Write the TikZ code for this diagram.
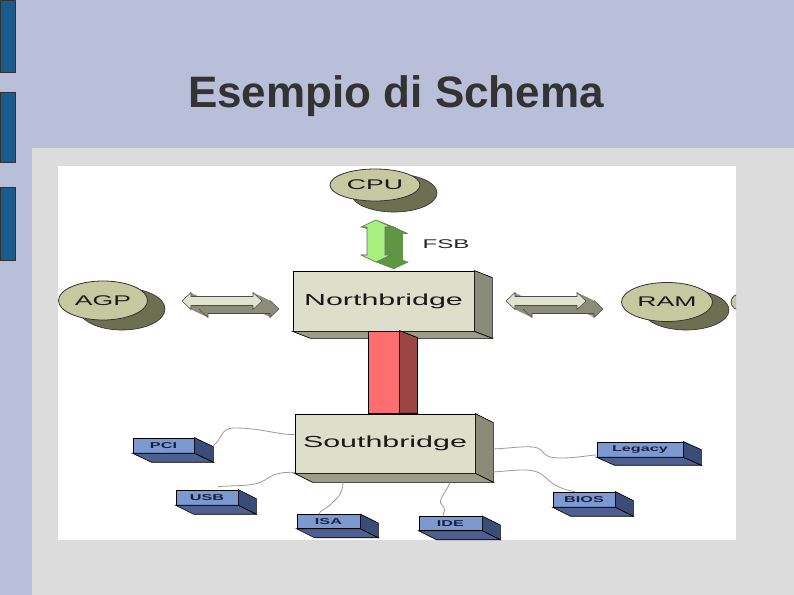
\documentclass[tikz,border=0pt]{standalone}
\usepackage{fontspec}
\setmainfont{Liberation Sans}
\newfontfamily\widefont[FakeStretch=1.9]{Liberation Sans}
\usetikzlibrary{shapes.geometric}
\definecolor{lav}{HTML}{B9BED9}
\definecolor{panel}{HTML}{DCDCDC}
\definecolor{barblue}{HTML}{1A5A8C}
\definecolor{khaki}{HTML}{C6C9A0}
\definecolor{olivedk}{HTML}{6D7050}
\definecolor{boxfront}{HTML}{DEDFCB}
\definecolor{boxside}{HTML}{8A8B78}
\definecolor{boxbottom}{HTML}{9C9D88}
\definecolor{redfront}{HTML}{FF6E6E}
\definecolor{redside}{HTML}{9B4545}
\definecolor{bluefront}{HTML}{7C9AD0}
\definecolor{blueside}{HTML}{3C4C78}
\definecolor{bluebottom}{HTML}{4E6090}
\definecolor{greenfront}{HTML}{A8F080}
\definecolor{greenside}{HTML}{5E9646}
\definecolor{arrowfront}{HTML}{E2E3CE}
\definecolor{arrowside}{HTML}{8C8D78}
\definecolor{wire}{HTML}{9A9A9A}
\definecolor{navytext}{HTML}{1A2040}
\definecolor{titlegray}{HTML}{333333}
\newcommand\extrudebox[5]{%
  \filldraw[fill=#4, draw=black, line width=0.5pt] (#1.north east) -- ++(#2,#3) -- ([shift={(#2,#3)}]#1.south east) -- (#1.south east) -- cycle;
  \filldraw[fill=#5, draw=black, line width=0.5pt] (#1.south west) -- ([shift={(#2,#3)}]#1.south west) -- ([shift={(#2,#3)}]#1.south east) -- (#1.south east) -- cycle;}
\tikzset{
  bigbox/.style={rectangle, fill=boxfront, draw=black, line width=0.6pt, inner sep=0pt,
    font=\widefont\fontsize{12}{13}\selectfont, text=black!90},
  smallbox/.style={rectangle, fill=bluefront, draw=black, line width=0.5pt, inner sep=0pt,
    minimum width=62*0.75pt, minimum height=15*0.75pt,
    font=\widefont\bfseries\fontsize{6.4}{7}\selectfont, text=navytext},
  chip/.style={ellipse, fill=khaki, draw=black!80, line width=0.6pt, inner sep=0pt,
    font=\widefont\fontsize{10.5}{11}\selectfont, text=black!90},
  wirestyle/.style={draw=wire, line width=0.6pt},
  hdbl/.pic={
    \foreach \t in {0,0.04,...,1.001}{
      \begin{scope}[shift={(17*\t,8*\t)}]
        \fill[arrowside] (-40,0) -- (-31,-8.5) -- (-31,-4.5) -- (31,-4.5) -- (31,-8.5) -- (40,0) -- (31,8.5) -- (31,4.5) -- (-31,4.5) -- (-31,8.5) -- cycle;
      \end{scope}}
    \begin{scope}[shift={(17,8)}]
      \draw[black!70, line width=0.4pt] (-40,0) -- (-31,8.5) -- (-31,4.5) -- (31,4.5) -- (31,8.5) -- (40,0) -- (31,-8.5);
    \end{scope}
    \filldraw[fill=arrowfront, draw=black!70, line width=0.4pt] (-40,0) -- (-31,-8.5) -- (-31,-4.5) -- (31,-4.5) -- (31,-8.5) -- (40,0) -- (31,8.5) -- (31,4.5) -- (-31,4.5) -- (-31,8.5) -- cycle;
  },
  vdbl/.pic={
    \foreach \t in {0,0.04,...,1.001}{
      \begin{scope}[shift={(18*\t,7*\t)}]
        \fill[greenside] (0,-21) -- (15,-14) -- (9,-14) -- (9,14) -- (15,14) -- (0,21) -- (-15,14) -- (-9,14) -- (-9,-14) -- (-15,-14) -- cycle;
      \end{scope}}
    \filldraw[fill=greenfront, draw=black!60, line width=0.4pt] (0,-21) -- (15,-14) -- (9,-14) -- (9,14) -- (15,14) -- (0,21) -- (-15,14) -- (-9,14) -- (-9,-14) -- (-15,-14) -- cycle;
  }
}
\begin{document}
\begin{tikzpicture}[x=0.75pt, y=-0.75pt]
\useasboundingbox (0,0) rectangle (794,595);
% background
\fill[lav] (0,0) rectangle (794,595);
\fill[panel] (32,148) rectangle (794,595);
\fill[white] (58,166) rectangle (736,540);
\foreach \a/\b in {0/72, 92/162, 187/260}{
  \filldraw[fill=barblue, draw=black!80, line width=0.6pt] (0,\a) rectangle (15,\b);}
% title
\node[anchor=base, font=\bfseries\fontsize{33}{36}\selectfont, text=titlegray] (title) at (396,108) {Esempio di Schema};

% CPU
\filldraw[fill=olivedk, draw=black!80, line width=0.5pt] (394,193) ellipse (43 and 19);
\node[chip, minimum width=90*0.75pt, minimum height=32*0.75pt] (cpu) at (375,185) {CPU};
% AGP
\filldraw[fill=olivedk, draw=black!80, line width=0.5pt] (122,309) ellipse (43 and 21);
\node[chip, minimum width=89*0.75pt, minimum height=39*0.75pt] (agp) at (103,300.5) {AGP};
% RAM
\filldraw[fill=olivedk, draw=black!80, line width=0.5pt] (686,310) ellipse (43 and 20);
\node[chip, minimum width=91*0.75pt, minimum height=39*0.75pt] (ram) at (667,302) {RAM};
% cut-off shape at right edge
\begin{scope}
  \clip (730,285) rectangle (736,320);
  \filldraw[fill=khaki, draw=black!80, line width=0.5pt] (743,302) ellipse (12 and 9);
\end{scope}

% FSB arrow
\pic at (376,241) {vdbl};
\node[font=\widefont\fontsize{9.5}{10}\selectfont, text=black!85] (fsb) at (446,244) {FSB};

% horizontal arrows
\pic at (222,301) {hdbl};
\pic at (546,301) {hdbl};

% Northbridge
\node[bigbox, minimum width=181*0.75pt, minimum height=60*0.75pt] (nb) at (383.5,301) {Northbridge};
\extrudebox{nb}{18}{7}{boxside}{boxbottom}

% red link
\node[rectangle, fill=redfront, draw=black, line width=0.6pt, inner sep=0pt,
  minimum width=31*0.75pt, minimum height=82*0.75pt] (link) at (383.5,372) {};
\filldraw[fill=redside, draw=black, line width=0.6pt] (link.north east) -- ++(18,7) -- ([shift={(18,0)}]link.south east) -- (link.south east) -- cycle;

% Southbridge
\node[bigbox, minimum width=180*0.75pt, minimum height=59*0.75pt] (sb) at (385,443.5) {Southbridge};
\extrudebox{sb}{18}{9}{boxside}{boxbottom}

% small boxes
\node[smallbox, minimum width=61*0.75pt] (pci) at (163.5,445.5) {PCI};
\extrudebox{pci}{19}{9}{blueside}{bluebottom}
\node[smallbox] (usb) at (207,497.5) {USB};
\extrudebox{usb}{18}{9}{blueside}{bluebottom}
\node[smallbox, minimum width=63*0.75pt, minimum height=14*0.75pt] (isa) at (328.5,521.5) {ISA};
\extrudebox{isa}{18}{9}{blueside}{bluebottom}
\node[smallbox, minimum width=63*0.75pt, minimum height=14*0.75pt] (ide) at (450.5,523.5) {IDE};
\extrudebox{ide}{18}{9}{blueside}{bluebottom}
\node[smallbox, minimum width=86*0.75pt] (legacy) at (640,449.5) {Legacy};
\extrudebox{legacy}{18}{8}{blueside}{bluebottom}
\node[smallbox] (bios) at (584,499.5) {BIOS};
\extrudebox{bios}{18}{9}{blueside}{bluebottom}

% wires
\draw[wirestyle] ([shift={(19,0)}]pci.east) .. controls (222,440) and (220,428) .. (234,428)
  .. controls (262,428) and (278,435) .. ([shift={(0,21)}]sb.north west);
\draw[wirestyle] ([shift={(11,-3)}]usb.north) .. controls (235,485) and (255,487) .. (265,480)
  .. controls (275,473) and (282,472) .. ([shift={(0,-1)}]sb.south west);
\draw[wirestyle] ([shift={(-42,9)}]sb.south) .. controls (343,495) and (335,500) .. (330,505)
  .. controls (325,510) and (320,510) .. ([shift={(-9.5,0)}]isa.north);
\draw[wirestyle] ([shift={(65,9)}]sb.south) .. controls (445,495) and (437,500) .. (442,505)
  .. controls (447,510) and (443,512) .. ([shift={(-7.5,0)}]ide.north);
\draw[wirestyle] ([shift={(18,5.5)}]sb.east) .. controls (515,448) and (535,444) .. (541,450)
  .. controls (546,456) and (548,458) .. (562,458) .. controls (577,458) and (590,455) .. ([shift={(0,5.5)}]legacy.west);
\draw[wirestyle] ([shift={(18,28.5)}]sb.east) .. controls (520,470) and (535,467) .. (545,477)
  .. controls (555,487) and (565,490) .. ([shift={(-9,0)}]bios.north);
\end{tikzpicture}
\end{document}
